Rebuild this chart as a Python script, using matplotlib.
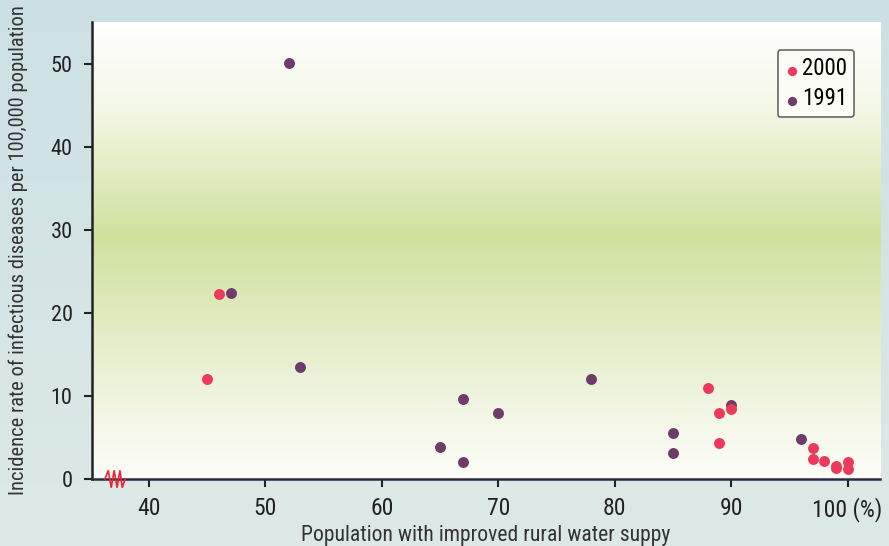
import numpy as np
import matplotlib.pyplot as plt
from matplotlib.colors import LinearSegmentedColormap
from matplotlib import font_manager

# data
x_1991 = [52, 47, 53, 65, 67, 67, 70, 78, 85, 85, 90, 96]
y_1991 = [50.2, 22.4, 13.5, 3.9, 9.6, 2.1, 8.0, 12.0, 5.5, 3.1, 8.9, 4.8]

x_2000 = [46, 45, 88, 89, 90, 89, 97, 97, 98, 99, 99, 100, 100]
y_2000 = [22.3, 12.0, 11.0, 7.9, 8.4, 4.4, 3.7, 2.4, 2.2, 1.6, 1.3, 2.0, 1.2]

x_ticks = [40, 50, 60, 70, 80, 90, 100]
x_labels = ['40', '50', '60', '70', '80', '90', '100 (%)']
y_ticks = [0, 10, 20, 30, 40, 50]


def pick_narrow_font():
    '''look for a condensed regular font, else None'''
    found = []
    for f in font_manager.fontManager.ttflist:
        nm = f.name.lower()
        narrow = 'narrow' in nm or 'condensed' in nm or f.stretch in ('condensed', 'semi-condensed')
        if narrow and f.style == 'normal' and f.weight in (400, 'normal', 'regular'):
            found.append(f)
    order = ['liberation sans narrow', 'roboto condensed', 'open sans condensed', 'dejavu sans']
    for want in order:
        for f in found:
            if f.name.lower().startswith(want):
                return f.fname
    if found:
        return found[0].fname
    return None


fpath = pick_narrow_font()
if fpath:
    font_manager.fontManager.addfont(fpath)
    fp = font_manager.FontProperties(fname=fpath)
    size_scale = 1.0
else:
    fp = font_manager.FontProperties(family='DejaVu Sans')
    size_scale = 0.85

fig = plt.figure(figsize=(8.89, 5.46), dpi=100)

# figure background gradient
bg = fig.add_axes([0, 0, 1, 1], zorder=-10)
bg_cmap = LinearSegmentedColormap.from_list('bg', ['#cce0e3', '#dde9e7'])
bg.imshow(np.linspace(0, 1, 256).reshape(-1, 1), cmap=bg_cmap, aspect='auto',
          extent=[0, 1, 0, 1])
bg.set_axis_off()

ax = fig.add_axes([0.1035, 0.1227, 0.8865, 0.837])
ax.patch.set_alpha(0)

plot_cmap = LinearSegmentedColormap.from_list(
    'plot', [(0, '#ffffff'), (0.2, '#f3f7e4'), (0.47, '#d0e19e'), (0.8, '#eef3dc'), (1, '#fdfdf8')])
ax.imshow(np.linspace(0, 1, 256).reshape(-1, 1), cmap=plot_cmap, aspect='auto',
          extent=[0, 1, 0, 1], transform=ax.transAxes, zorder=0)

ax.scatter(x_1991, y_1991, s=62, color='#6e3b6b', zorder=3, label='1991', linewidths=0)
ax.scatter(x_2000, y_2000, s=62, color='#ec3a5c', zorder=4, label='2000', linewidths=0)

ax.set_xlim(35.1, 102.8)
ax.set_ylim(0, 55.1)

ax.set_xticks(x_ticks)
ax.set_xticklabels(x_labels)
ax.set_yticks(y_ticks)
ax.tick_params(length=6, width=1.5, color='#222222', labelcolor='#222222')
ax.tick_params(axis='x', pad=7)
ax.tick_params(axis='y', pad=8)
for lab in ax.get_xticklabels():
    lab.set_fontproperties(fp)
    lab.set_fontsize(17 * size_scale)
for lab in ax.get_yticklabels():
    lab.set_fontproperties(fp)
    lab.set_fontsize(16 * size_scale)

for s in ['top', 'right']:
    ax.spines[s].set_visible(False)
ax.spines['left'].set_linewidth(1.8)
ax.spines['left'].set_color('#222222')
ax.spines['bottom'].set_linewidth(1.8)
ax.spines['bottom'].set_color('#2a2a40')

# axis break mark
zx = [36.2, 36.5, 36.75, 37.0, 37.25, 37.5, 37.7, 37.95]
zy = [0, 1.0, -1.0, 1.0, -1.0, 1.0, -1.0, 0]
ax.plot(zx, zy, color='#ee2233', lw=1.2, zorder=5, clip_on=False)

ax.set_xlabel('Population with improved rural water suppy', fontproperties=fp,
              fontsize=15.6 * size_scale, color='#333333', va='center')
ax.xaxis.set_label_coords(0.5, -0.123)
ax.set_ylabel('Incidence rate of infectious diseases per 100,000 population', fontproperties=fp,
              fontsize=14.8 * size_scale, color='#333333', va='center')
ax.yaxis.set_label_coords(-0.094, 0.5)

handles, labels = ax.get_legend_handles_labels()
leg = ax.legend(handles[::-1], labels[::-1], loc='upper right', bbox_to_anchor=(0.967, 0.939),
                borderaxespad=0, prop=fp, handletextpad=0.15, markerscale=0.85, borderpad=0.5,
                labelspacing=0.5, handlelength=1.1, fancybox=True, framealpha=1)
for t in leg.get_texts():
    t.set_fontsize(16.5 * size_scale)
leg.get_frame().set_edgecolor('#666666')
leg.get_frame().set_linewidth(1.2)
leg.get_frame().set_facecolor('#fbfcf6')

fig.savefig('out.png', dpi=100)
